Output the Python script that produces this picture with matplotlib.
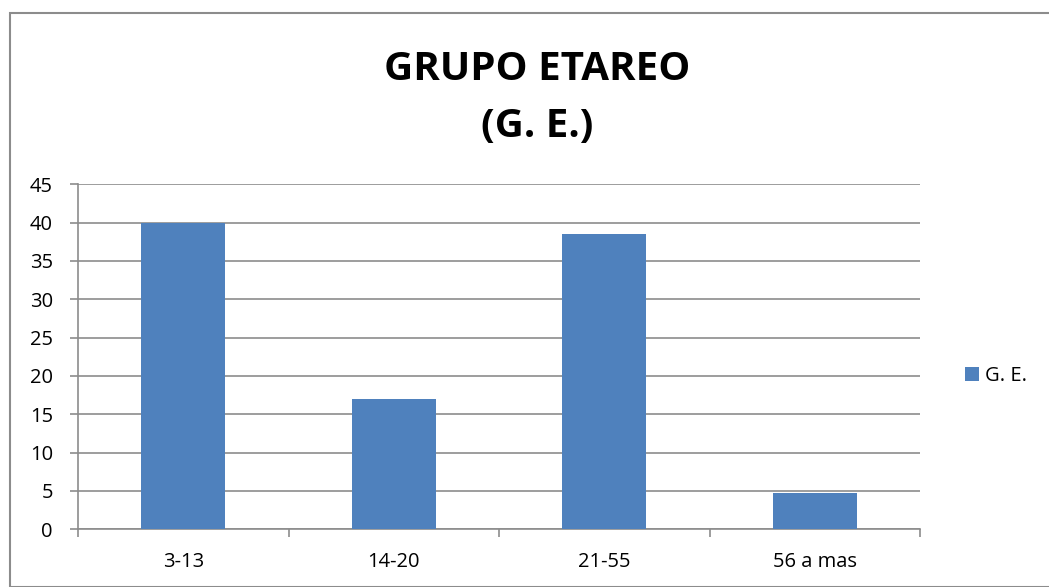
import matplotlib
matplotlib.use('Agg')
import matplotlib.pyplot as plt
from matplotlib.patches import Rectangle

categories = ["3-13", "14-20", "21-55", "56 a mas"]
values = [40, 17, 38.5, 4.7]
series_name = "G. E."
bar_color = "#4F81BD"

plt.rcParams['font.family'] = ['Open Sans', 'DejaVu Sans']

fig = plt.figure(figsize=(10.49, 5.87), dpi=100)
W, H = 1049, 587
ax = fig.add_axes([78 / W, 1 - 529.3 / H, (920 - 78) / W, (529.3 - 184.3) / H])

x = list(range(len(categories)))
bars = ax.bar(x, values, width=0.4, color=bar_color, label=series_name, zorder=3)

ax.set_xlim(-0.5, len(categories) - 0.5)
ax.set_ylim(0, 45)
ax.set_yticks(range(0, 46, 5))
ax.yaxis.grid(True, color="#8c8c8c", linewidth=1.2, zorder=0)
ax.set_axisbelow(True)

ax.set_xticks(x)
ax.set_xticklabels(categories, fontsize=14.5)
ax.tick_params(axis='x', length=0, pad=16)
ax.set_xticks([i - 0.5 for i in range(len(categories) + 1)], minor=True)
ax.tick_params(axis='x', which='minor', length=6, color="#8c8c8c", width=1.2)
ax.tick_params(axis='y', length=6, color="#8c8c8c", width=1.2, labelsize=14.5, pad=12)

for s in ['top', 'right']:
    ax.spines[s].set_visible(False)
for s in ['left', 'bottom']:
    ax.spines[s].set_color("#8c8c8c")
    ax.spines[s].set_linewidth(1.2)

fig.text(537 / W, 1 - 98 / H, "GRUPO ETAREO\n(G. E.)", ha='center', va='center',
         fontsize=29, fontweight='bold', linespacing=1.6)

fig.legend(handles=[bars], labels=[series_name], loc='center left',
           bbox_to_anchor=(947 / W, 1 - 376 / H), frameon=False, fontsize=14.5,
           handlelength=0.7, handleheight=0.7, handletextpad=0.3)

# outer chart frame
fig.patches.append(Rectangle((10 / W, 0), 1.1, 1 - 13 / H, transform=fig.transFigure,
                             fill=False, edgecolor="#8c8c8c", linewidth=1.5))

fig.savefig("out.png", dpi=100)
